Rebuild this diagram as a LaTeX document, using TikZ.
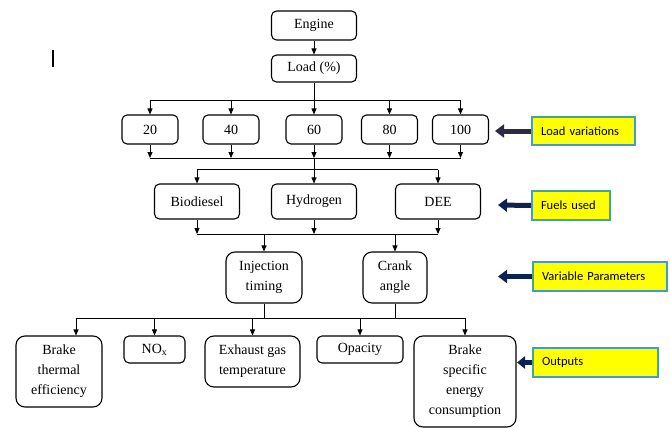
\documentclass[tikz,border=0pt]{standalone}
\usepackage{fontspec}
\setmainfont{Liberation Serif}
\newfontfamily\calib{Carlito}
\usetikzlibrary{arrows.meta}
\definecolor{tealc}{RGB}{64,160,180}
\definecolor{yel}{RGB}{255,255,0}
\definecolor{navya}{RGB}{44,42,68}
\definecolor{navyb}{RGB}{14,34,80}
\begin{document}
\begin{tikzpicture}[x=1pt,y=-1pt,
  box/.style={draw, line width=1.1pt, rounded corners=5pt, align=center, inner sep=0pt,
    font=\fontsize{14}{20}\selectfont},
  bigbox/.style={box, rounded corners=9pt},
  conn/.style={line width=0.8pt},
  arr/.style={conn, -{Triangle[length=6pt,width=5pt]}},
  tag/.style={draw=tealc, fill=yel, line width=2.2pt, inner xsep=9pt, inner ysep=0pt,
    align=left, font=\calib\fontsize{12.5}{15}\selectfont},
  tagarr/.style={line width=5pt, -{Triangle[length=9pt,width=13pt]}}
]
\useasboundingbox (0,0) rectangle (670,428);

% stray mark
\draw[line width=1.2pt] (53,50) -- (53,67);

% nodes
\node[box, minimum width=85pt, minimum height=29pt] (engine) at (314,25.5) {Engine};
\node[box, minimum width=85pt, minimum height=27pt] (load) at (314,68.5) {Load (\%)};

\node[box, minimum width=56pt, minimum height=29pt] (l20) at (150,129.5) {20};
\node[box, minimum width=56pt, minimum height=29pt] (l40) at (231,129.5) {40};
\node[box, minimum width=56pt, minimum height=29pt] (l60) at (314,129.5) {60};
\node[box, minimum width=56pt, minimum height=29pt] (l80) at (389.5,129.5) {80};
\node[box, minimum width=56pt, minimum height=29pt] (l100) at (460.5,129.5) {100};

\node[box, minimum width=85pt, minimum height=35pt] (bio) at (197,201.5) {Biodiesel};
\node[box, minimum width=85pt, minimum height=35pt] (hyd) at (314,201.5) {Hydrogen};
\node[box, minimum width=85pt, minimum height=35pt] (dee) at (438,201.5) {DEE};

\node[bigbox, minimum width=76pt, minimum height=51pt] (inj) at (264,277.5) {Injection\\timing};
\node[bigbox, minimum width=64pt, minimum height=51pt] (crank) at (395,277.5) {Crank\\angle};

\node[bigbox, minimum width=86pt, minimum height=71pt] (bte) at (59,371.5) {Brake\\thermal\\efficiency};
\node[box, minimum width=61pt, minimum height=27pt] (nox) at (154.5,349.5) {NO\textsubscript{x}};
\node[bigbox, minimum width=95pt, minimum height=51pt] (exh) at (252.5,361.5) {Exhaust gas\\temperature};
\node[box, minimum width=86pt, minimum height=27pt] (opa) at (360,349.5) {Opacity};
\node[bigbox, minimum width=102pt, minimum height=91pt] (bsec) at (465,381.5) {Brake\\specific\\energy\\consumption};

% tags
\node[tag, text width=85pt, minimum height=28pt] (lv) at (583.5,131) {Load variations};
\node[tag, text width=60pt, minimum height=29pt] (fu) at (571,205.5) {Fuels used};
\node[tag, text width=116pt, minimum height=29pt] (vp) at (600,276.5) {Variable Parameters};
\node[tag, text width=107pt, minimum height=29pt] (out) at (595.5,362.5) {Outputs};

\coordinate (lvt) at (495,131);
\coordinate (fut) at (498,205);
\coordinate (vpt) at (498,276.5);
\coordinate (outt) at (517,362.5);
\draw[tagarr, navya] (lv.west) -- (lvt);
\draw[tagarr, navyb] (fu.west) -- (fut);
\draw[tagarr, navyb] (vp.west) -- (vpt);
\draw[tagarr, navyb, -{Triangle[length=8pt,width=12pt]}] (out.west) -- (outt);

% bus coordinates
\coordinate (b1) at (0,100);
\coordinate (b2) at (0,158);
\coordinate (b3) at (0,169.5);
\coordinate (b4) at (0,234);
\coordinate (b5) at (0,318);
\coordinate (t1) at (76,318);

% connectors
\draw[arr] (engine) -- (load);
\draw[arr] (load) -- (l60);
\draw[conn] (l20 |- b1) -- (l100 |- b1);
\foreach \n in {l20,l40,l80,l100} \draw[arr] (\n |- b1) -- (\n.north);

\foreach \n in {l20,l40,l60,l80,l100} \draw[arr] (\n.south) -- (\n |- b2);
\draw[conn] (l20 |- b2) -- (l100 |- b2);
\draw[conn] (l60 |- b2) -- (l60 |- b3);
\draw[conn] (bio |- b3) -- (dee |- b3);
\foreach \n in {bio,hyd,dee} \draw[arr] (\n |- b3) -- (\n.north);

\foreach \n in {bio,hyd,dee} \draw[arr] (\n.south) -- (\n |- b4);
\draw[conn] (bio |- b4) -- (dee |- b4);
\draw[arr] (inj |- b4) -- (inj.north);
\draw[arr] (crank |- b4) -- (crank.north);

\draw[conn] (inj.south) -- (inj |- b5);
\draw[conn] (crank.south) -- (crank |- b5);
\draw[conn] (t1) -- (bsec |- b5);
\draw[arr] (t1) -- (t1 |- bte.north);
\foreach \n in {nox,exh,opa,bsec} \draw[arr] (\n |- b5) -- (\n.north);
\end{tikzpicture}
\end{document}
